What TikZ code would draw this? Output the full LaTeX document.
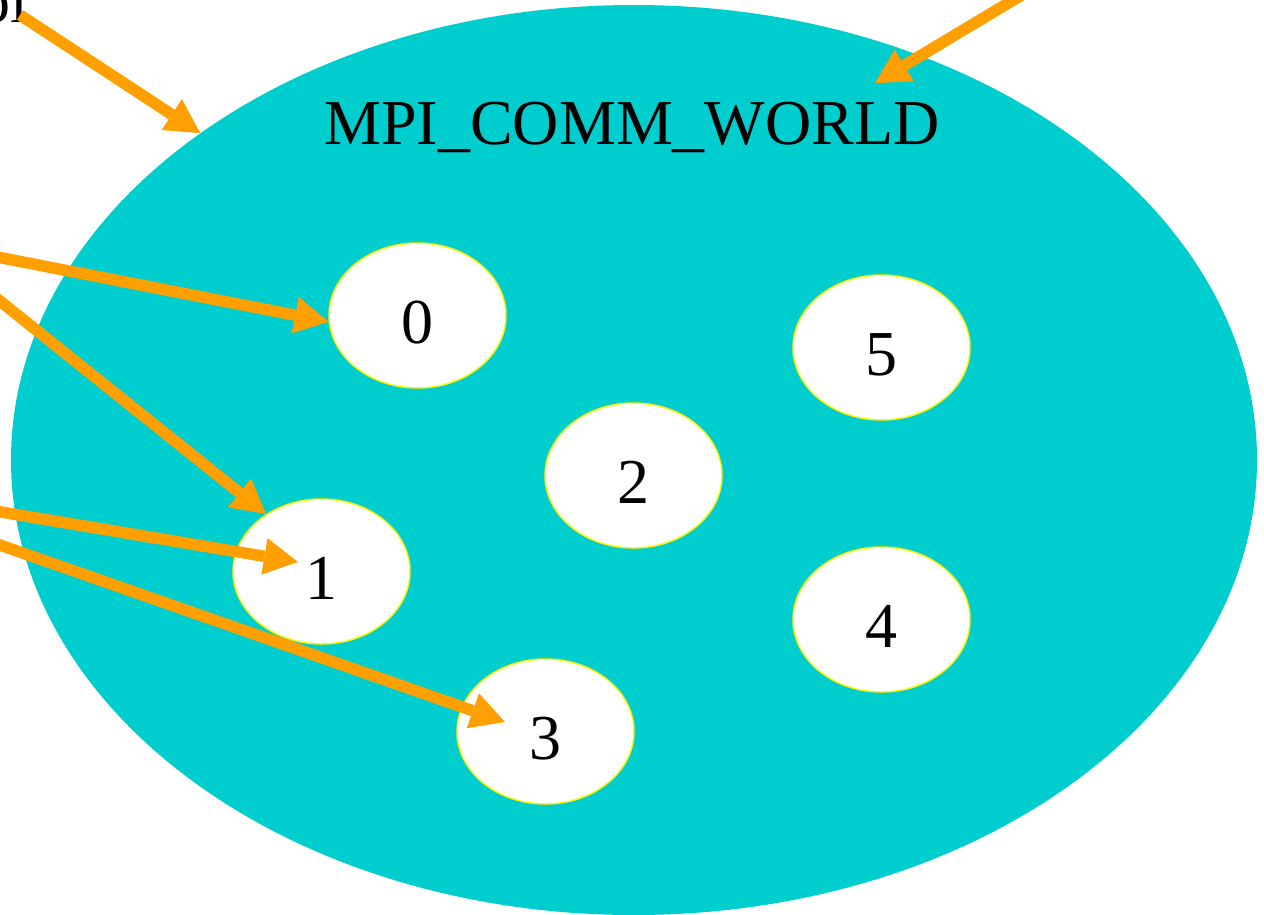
\documentclass[tikz,border=0pt]{standalone}
\usepackage{fontspec}
\setmainfont{Liberation Serif}
\usetikzlibrary{arrows.meta,shapes.geometric}
\definecolor{worldfill}{HTML}{00CDCD}
\definecolor{edgeorange}{HTML}{FFA000}
\begin{document}
\begin{tikzpicture}[x=1pt,y=-1pt,
  bigfont/.style={font=\fontsize{64}{77}\selectfont},
  rank/.style={ellipse, draw=yellow, line width=1.5pt, fill=white,
    minimum width=177pt, minimum height=145pt, inner sep=0pt, bigfont,
    text height=55pt, text depth=0pt},
  link/.style={draw=edgeorange, line width=11.5pt,
    -{Triangle[length=34pt,width=37pt,line width=0pt]}}]
\useasboundingbox (0,0) rectangle (1264,914);
\clip (0,0) rectangle (1264,914);

% communicator
\node[ellipse, fill=worldfill, minimum width=1246pt, minimum height=910pt,
  inner sep=0pt] (world) at (634,460) {};
\node[bigfont, anchor=base] (worldlbl) at (632,144) {MPI\_COMM\_WORLD};

% ranks
\node[rank] (r0) at (417.5,315.5) {0};
\node[rank] (r5) at (881.5,347.5) {5};
\node[rank] (r2) at (633.5,475.5) {2};
\node[rank] (r1) at (321.5,571.5) {1};
\node[rank] (r4) at (881.5,619.5) {4};
\node[rank] (r3) at (545.5,731.5) {3};

% outside label and edge sources
\node[bigfont, anchor=base east, inner sep=0pt] (outlbl) at (28,22) {ol};
\coordinate (s1) at (20,15);
\coordinate (s2) at (1100,-52);
\coordinate (s3) at (-100,238);
\coordinate (s4) at (-100,221);
\coordinate (s5) at (-100,495);
\coordinate (s6) at (-100,510);

% edges
\draw[link] (s1) -- (world.143);
\draw[link] (s2) -- ([shift={(241,-377)}]world.center);
\draw[link] (s3) -- (r0.184);
\draw[link] (s4) -- (r1.134);
\draw[link] (s5) -- ([shift={(-23.5,-9.5)}]r1.center);
\draw[link] (s6) -- ([shift={(-40.5,-9.5)}]r3.center);
\end{tikzpicture}
\end{document}
